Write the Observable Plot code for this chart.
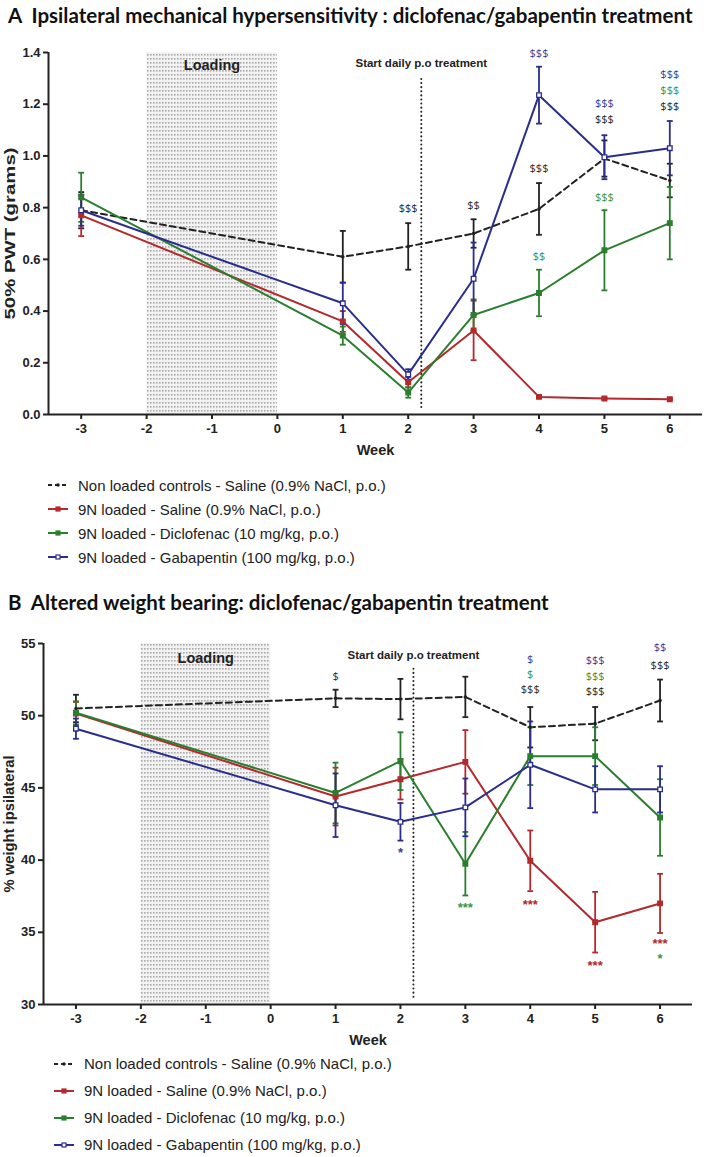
<!DOCTYPE html>
<html><head><meta charset="utf-8">
<script src="https://cdn.jsdelivr.net/npm/d3@7"></script>
<script src="https://cdn.jsdelivr.net/npm/@observablehq/plot@0.6"></script>
<style>
body{margin:0;background:#fff;width:709px;height:1157px;position:relative;overflow:hidden;font-family:"Liberation Sans",Arial,sans-serif;}
.title{position:absolute;left:8px;font-family:Lato,"Open Sans",sans-serif;font-weight:bold;font-size:20.5px;line-height:24px;color:#111;white-space:nowrap;}
.chart{position:absolute;left:0;}
.legend{position:absolute;font-size:15px;color:#222;font-family:"Liberation Sans",Arial,sans-serif;}
.legend .row{display:flex;align-items:center;white-space:nowrap;}
.legend svg{margin-right:9px;}
</style></head><body>
<div id="titleA" class="title" style="top:3px">A&nbsp; Ipsilateral mechanical hypersensitivity : diclofenac/gabapentin treatment</div>
<div id="chartA" class="chart" style="top:30px"></div>
<div id="legendA" class="legend" style="top:473px;left:47px"></div>
<div id="titleB" class="title" style="top:590px">B&nbsp; Altered weight bearing: diclofenac/gabapentin treatment</div>
<div id="chartB" class="chart" style="top:620px"></div>
<div id="legendB" class="legend" style="top:1050px;left:53px"></div>
<script>
// ---------- shared ----------
const weeks = [-3, 1, 2, 3, 4, 5, 6];
const xTicks = [-3, -2, -1, 0, 1, 2, 3, 4, 5, 6];
const xDomain = [-3.5, 6.5];
const loadingWeeks = [-2, 0];
const treatmentStart = 2.2;
const seriesNames = [
  "Non loaded controls - Saline (0.9% NaCl, p.o.)",
  "9N loaded - Saline (0.9% NaCl, p.o.)",
  "9N loaded - Diclofenac (10 mg/kg, p.o.)",
  "9N loaded - Gabapentin (100 mg/kg, p.o.)"
];
const seriesKeys = ["ctrl", "sal", "dic", "gab"];
const seriesColors = ["#222222", "#b3292c", "#2a7f2e", "#2a2d8c"];
const annColors = {k: "#2a2a2a", r: "#b3292c", g: "#3a9444", b: "#3a3c98"};

// ---------- panel A: 50% PWT (grams) ----------
const ctrlA = [0.79, 0.61, 0.65, 0.70, 0.795, 0.99, 0.905];
const ctrlA_sem = [0.07, 0.10, 0.09, 0.055, 0.10, 0.07, 0.065];
const salA = [0.77, 0.36, 0.125, 0.325, 0.068, 0.062, 0.059];
const salA_sem = [0.08, 0.04, 0.02, 0.115, 0.004, 0.003, 0.003];
const dicA = [0.84, 0.305, 0.085, 0.385, 0.47, 0.635, 0.74];
const dicA_sem = [0.095, 0.035, 0.02, 0.06, 0.09, 0.155, 0.14];
const gabA = [0.79, 0.43, 0.155, 0.525, 1.235, 0.995, 1.03];
const gabA_sem = [0.06, 0.08, 0.02, 0.14, 0.11, 0.085, 0.105];
const yTicksA = [0, 0.2, 0.4, 0.6, 0.8, 1.0, 1.2, 1.4];
const annTextA = ["$$$", "$$", "$$$", "$$$", "$$", "$$$", "$$$", "$$$", "$$$", "$$$", "$$$"];
const annWeekA = [2, 3, 4, 4, 4, 5, 5, 5, 6, 6, 6];
const annYA = [0.797, 0.808, 1.396, 0.951, 0.611, 1.203, 1.141, 0.839, 1.315, 1.253, 1.191];
const annColA = ["k", "k", "b", "k", "g", "b", "k", "g", "b", "g", "k"];

// ---------- panel B: % weight ipsilateral ----------
const ctrlB = [50.5, 51.2, 51.15, 51.3, 49.2, 49.45, 51.05];
const ctrlB_sem = [0.95, 0.6, 1.4, 1.4, 1.4, 1.15, 1.45];
const salB = [50.15, 44.4, 45.6, 46.8, 39.95, 35.7, 37.0];
const salB_sem = [0.8, 2.0, 1.4, 2.2, 2.1, 2.1, 2.05];
const dicB = [50.2, 44.65, 46.85, 39.75, 47.2, 47.2, 42.95];
const dicB_sem = [0.8, 2.1, 2.0, 2.2, 2.0, 2.0, 2.65];
const gabB = [49.1, 43.8, 42.65, 43.65, 46.6, 44.9, 44.9];
const gabB_sem = [0.7, 2.2, 1.3, 2.0, 3.0, 1.6, 1.6];
const yTicksB = [30, 35, 40, 45, 50, 55];
const annTextB = ["$", "$", "$", "$$$", "$$$", "$$$", "$$$", "$$", "$$$", "*", "***", "***", "***", "***", "*"];
const annWeekB = [1, 4, 4, 4, 5, 5, 5, 6, 6, 2, 3, 4, 5, 6, 6];
const annYB = [52.74, 53.89, 52.87, 51.83, 53.84, 52.73, 51.7, 54.7, 53.5, 40.79, 36.98, 37.2, 32.98, 34.5, 33.45];
const annColB = ["k", "b", "g", "k", "b", "g", "k", "b", "k", "b", "g", "r", "r", "r", "g"];

function rowsOf(means, sems) {
  return weeks.map((w, i) => ({week: w, mean: means[i], sem: sems[i]}));
}
function annOf(texts, ws, ys, cols) {
  return texts.map((t, i) => ({text: t, week: ws[i], y: ys[i], col: cols[i], star: t.startsWith("*")}));
}

function makeChart(cfg) {
  const series = cfg.means.map((m, i) => ({
    key: seriesKeys[i], color: seriesColors[i], rows: rowsOf(m, cfg.sems[i])
  }));
  const cap = 0.045;
  const marks = [
    Plot.rect([{x1: loadingWeeks[0], x2: loadingWeeks[1]}], {
      x1: "x1", x2: "x2", y1: cfg.yDomain[0], y2: cfg.yDomain[1], fill: `url(#${cfg.pid})`
    }),
    Plot.text(["Loading"], {x: (loadingWeeks[0] + loadingWeeks[1]) / 2, y: cfg.loadingY, text: d => d,
      fontSize: 14.5, fontWeight: "bold", fill: "#222"}),
    Plot.ruleX([treatmentStart], {y1: cfg.treatY1, y2: cfg.treatY2, stroke: "#222",
      strokeWidth: 2, strokeDasharray: "0.1,4", strokeLinecap: "round"}),
    Plot.text(["Start daily p.o treatment"], {x: treatmentStart, y: cfg.treatLabelY, text: d => d,
      fontSize: 11.5, fontWeight: "bold", fill: "#222"}),
    Plot.ruleY([cfg.yDomain[0]], {stroke: "#222", strokeWidth: 2}),
    Plot.ruleX([xDomain[0]], {y1: cfg.yDomain[0], y2: cfg.yDomain[1], stroke: "#222", strokeWidth: 2}),
    Plot.axisX({ticks: xTicks, tickSize: 5, tickPadding: 4, tickFormat: d => String(d), strokeWidth: 2,
      fontSize: 13, fontWeight: "bold",
      label: "Week", labelAnchor: "center", labelArrow: "none", labelOffset: cfg.xLabelOffset}),
    Plot.axisY({ticks: cfg.yTicks, tickSize: 5, tickPadding: 3, tickFormat: cfg.yFormat, strokeWidth: 2,
      fontSize: 13, fontWeight: "bold",
      label: cfg.yLabel, labelAnchor: "center", labelArrow: "none", labelOffset: cfg.yLabelOffset})
  ];
  series.forEach((s, i) => {
    marks.push(
      Plot.ruleX(s.rows, {x: "week", y1: d => d.mean - d.sem, y2: d => d.mean + d.sem, stroke: s.color, strokeWidth: 1.8}),
      Plot.link(s.rows, {x1: d => d.week - cap, x2: d => d.week + cap, y1: d => d.mean + d.sem, y2: d => d.mean + d.sem, stroke: s.color, strokeWidth: 1.8}),
      Plot.link(s.rows, {x1: d => d.week - cap, x2: d => d.week + cap, y1: d => d.mean - d.sem, y2: d => d.mean - d.sem, stroke: s.color, strokeWidth: 1.8}),
      Plot.line(s.rows, {x: "week", y: "mean", stroke: s.color, strokeWidth: 2,
        strokeDasharray: s.key === "ctrl" ? "6,4" : null})
    );
  });
  series.forEach(s => {
    if (s.key === "ctrl") {
      marks.push(Plot.dot(s.rows, {x: "week", y: "mean", r: 1.8, fill: s.color}));
    } else {
      marks.push(Plot.dot(s.rows, {x: "week", y: "mean", symbol: "square", r: 2.6,
        fill: s.key === "gab" ? "white" : s.color, stroke: s.color, strokeWidth: 1.3}));
    }
  });
  // significance annotations, one mark per colour (constant fill)
  Object.keys(annColors).forEach(c => {
    const dollars = cfg.anns.filter(d => d.col === c && !d.star);
    const stars = cfg.anns.filter(d => d.col === c && d.star);
    if (dollars.length) marks.push(Plot.text(dollars, {x: "week", y: "y", text: "text", fill: annColors[c],
      fontSize: 11, fontFamily: "'Open Sans',sans-serif", fontWeight: "normal", opacity: 0.999}));
    if (stars.length) marks.push(Plot.text(stars, {x: "week", y: "y", text: "text", fill: annColors[c],
      fontSize: 13, fontWeight: "bold", dy: 4, opacity: 0.999}));
  });
  const svg = Plot.plot({
    width: 709, height: cfg.height,
    marginLeft: cfg.ml, marginRight: cfg.mr, marginTop: cfg.mt, marginBottom: cfg.mb,
    x: {domain: xDomain},
    y: {domain: cfg.yDomain},
    style: {fontFamily: "'Liberation Sans',Arial,sans-serif", fontSize: "13px", fontWeight: "bold", color: "#222", background: "white"},
    marks
  });
  const root = d3.select(svg);
  root.selectAll('g[aria-label="y-axis label"] text')
    .attr("font-size", cfg.yLabelSize)
    .attr("textLength", cfg.yLabelLength)
    .attr("lengthAdjust", "spacingAndGlyphs");
  root.selectAll('g[aria-label="x-axis label"] text').attr("font-size", 14.5);
  const defs = root.insert("defs", ":first-child");
  const pat = defs.append("pattern").attr("id", cfg.pid).attr("width", 3).attr("height", 4).attr("patternUnits", "userSpaceOnUse");
  pat.append("rect").attr("width", 3).attr("height", 4).attr("fill", "#f2f2f2");
  pat.append("rect").attr("width", 1.6).attr("height", 1.6).attr("fill", "#a9a9a9");
  return svg;
}

document.getElementById("chartA").append(makeChart({
  pid: "stippleA", height: 430, ml: 48, mr: 7, mt: 22, mb: 46,
  yDomain: [0, 1.4], yTicks: yTicksA, yFormat: d3.format(".1f"), yLabel: "50% PWT (grams)",
  yLabelOffset: 44, xLabelOffset: 40, yLabelSize: 15, yLabelLength: 172,
  means: [ctrlA, salA, dicA, gabA], sems: [ctrlA_sem, salA_sem, dicA_sem, gabA_sem],
  loadingY: 1.35, treatY1: 0.027, treatY2: 1.31, treatLabelY: 1.357,
  anns: annOf(annTextA, annWeekA, annYA, annColA)
}));
document.getElementById("chartB").append(makeChart({
  pid: "stippleB", height: 430, ml: 43, mr: 17, mt: 23, mb: 46,
  yDomain: [30, 55], yTicks: yTicksB, yFormat: d => String(d), yLabel: "% weight ipsilateral",
  yLabelOffset: 40, xLabelOffset: 40, yLabelSize: 14.5, yLabelLength: 137,
  means: [ctrlB, salB, dicB, gabB], sems: [ctrlB_sem, salB_sem, dicB_sem, gabB_sem],
  loadingY: 53.96, treatY1: 30.5, treatY2: 53.4, treatLabelY: 54.19,
  anns: annOf(annTextB, annWeekB, annYB, annColB)
}));

function legendSymbol(i) {
  const c = seriesColors[i];
  let s = `<svg width="22" height="10" viewBox="0 0 22 10">`;
  if (i === 0) {
    s += `<line x1="1" x2="21" y1="5" y2="5" stroke="${c}" stroke-width="2" stroke-dasharray="4,3"/><circle cx="11" cy="5" r="1.8" fill="${c}"/>`;
  } else {
    s += `<line x1="1" x2="21" y1="5" y2="5" stroke="${c}" stroke-width="2"/>` +
      `<rect x="9" y="3" width="4" height="4" fill="${i === 3 ? "white" : c}" stroke="${c}" stroke-width="1.2"/>`;
  }
  return s + `</svg>`;
}
function buildLegend(id, lineHeight) {
  const el = document.getElementById(id);
  el.innerHTML = seriesNames.map((n, i) =>
    `<div class="row" style="height:${lineHeight}px">${legendSymbol(i)}<span>${n}</span></div>`).join("");
}
buildLegend("legendA", 24);
buildLegend("legendB", 27);
</script>
</body></html>
